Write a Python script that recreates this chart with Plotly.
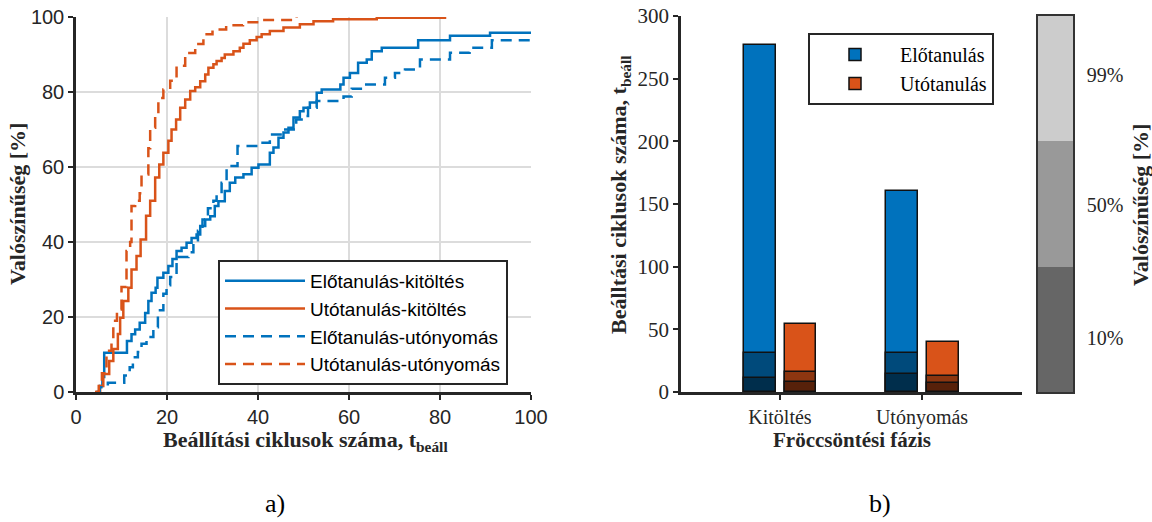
import plotly.graph_objects as go

# ---------------- data: a) empirical CDF curves ----------------
pre_fill_x = [4.5, 5.2, 5.8, 6.2, 11.2, 12.2, 13, 14, 15.2, 15.9, 16.6, 17.5, 17.9, 19.2, 20.3, 21.2,
              22.1, 23.2, 24.3, 25.4, 26.5, 27.3, 28.4, 29.5, 30.5, 31.3, 32.7, 33.8, 35, 36.8, 38.6,
              40.1, 42.6, 43.4, 44.5, 45.6, 46.7, 47.8, 49.2, 50, 51.4, 52.9, 54, 58.1, 58.8, 60.2,
              62, 63.9, 65, 67.2, 75.2, 82.2, 91, 100]
pre_fill_y = [0, 1.6, 4, 10.5, 13.6, 15.4, 16.7, 18.5, 21.1, 24.3, 26.5, 27.8, 30.5, 31.8, 33.6, 35.5,
              37.6, 38.5, 39.8, 41.1, 42, 44.3, 46, 46.9, 49.6, 50.9, 53.6, 55.8, 57.2, 58.1, 59.8,
              60.7, 63.8, 65.2, 67.8, 69.2, 70.5, 73.2, 74.9, 75.8, 77.2, 79.8, 80.7, 82, 83.8, 85.1,
              87.8, 88.7, 90.9, 91.8, 93.8, 95, 95.8, 95.8]

post_fill_x = [4.2, 5.3, 6, 7.3, 8.2, 9.2, 9.7, 10.4, 11.5, 12.2, 13.3, 14.2, 15.4, 16.3, 17.4, 18.3,
               19.2, 20.3, 21, 22, 22.9, 24, 25.1, 26.2, 27.3, 28.4, 29.1, 30.2, 30.9, 32, 32.7,
               34.6, 36, 36.8, 38.2, 39.7, 40.8, 42.6, 45.6, 49.2, 52.2, 56.5, 66.1, 81.1]
post_fill_y = [0, 1.6, 4.8, 8.3, 11.5, 15.5, 19.8, 24.3, 27.8, 32.7, 36.3, 40.7, 47, 51, 57.2, 60.7,
               63.8, 67, 70, 72.7, 75.8, 78, 80.3, 81.3, 82.9, 84.7, 86.5, 87.4, 88.3, 89.1, 90,
               90.9, 91.8, 92.9, 93.8, 94.7, 95.4, 96.3, 97.2, 98.1, 98.9, 99.4, 99.8, 100]

pre_hold_x = [4.5, 5.2, 7, 10.6, 11.8, 12.5, 13.6, 14.4, 15.5, 17, 18, 19.2, 19.9, 20.7, 22.1, 24.7,
              25.8, 26.8, 27.8, 29, 30.2, 30.9, 32, 33.1, 35.5, 41, 42.6, 45.6, 48.4, 50.3, 51, 52.9,
              58.8, 60.6, 63.2, 67.9, 70.1, 72.3, 75.6, 82.2, 86.5, 91.4, 100]
pre_hold_y = [0, 1.3, 2.5, 4.4, 6.6, 9.3, 10.7, 12.9, 14.7, 17.3, 21.8, 26.2, 28.5, 30.7, 36, 37.3,
              40, 43, 46, 49, 51, 52.7, 55.8, 60.3, 65.6, 66.5, 68.7, 70, 72.7, 73.6, 75.8, 77.6,
              78.8, 80.9, 82, 83.8, 85.1, 86, 88.7, 90.5, 91.8, 93.8, 93.8]

post_hold_x = [4.2, 5, 5.7, 6.7, 7.8, 8.2, 9, 10, 11.1, 11.9, 12.2, 13, 14, 14.4, 15.9, 16.3, 17.4,
               18.1, 19.2, 20.7, 22.1, 24, 26.2, 28, 30, 33, 36.7, 40.4, 48.5]
post_hold_y = [0, 2, 5, 11, 14, 19, 22, 28, 37.6, 40, 49.6, 51, 53, 58, 65, 70.5, 73.6,
               78.4, 80.7, 83, 87, 90.4, 92.8, 95.4, 96.7, 97.8, 98.6, 99.2, 100]

curve_names = ["Előtanulás-kitöltés", "Utótanulás-kitöltés",
               "Előtanulás-utónyomás", "Utótanulás-utónyomás"]

# ---------------- data: b) percentile bars ----------------
phases = ["Kitöltés", "Utónyomás"]
pre_p10 = [11, 14]
pre_p50 = [31, 31]
pre_p99 = [277, 160]
post_p10 = [8, 7]
post_p50 = [16, 13]
post_p99 = [54, 40]
series_names = ["Előtanulás", "Utótanulás"]

levels = ["10%", "50%", "99%"]
level_colors = ["#666666", "#999999", "#cccccc"]

# ---------------- styling ----------------
BLUE = "#0072bd"
ORANGE = "#d95319"
BLUE_50, BLUE_10 = "#004a7b", "#002e4c"
ORANGE_50, ORANGE_10 = "#8d3610", "#57210a"
AX = "#262626"
SANS = "Liberation Sans, Arial, sans-serif"
SERIF = "Liberation Serif, Times New Roman, serif"
W, H = 1152, 522

fig = go.Figure()

dash = "11px,7px"
for xs, ys, name, col, dsh in [
    (pre_fill_x, pre_fill_y, curve_names[0], BLUE, "solid"),
    (post_fill_x, post_fill_y, curve_names[1], ORANGE, "solid"),
    (pre_hold_x, pre_hold_y, curve_names[2], BLUE, dash),
    (post_hold_x, post_hold_y, curve_names[3], ORANGE, dash),
]:
    fig.add_trace(go.Scatter(
        x=xs, y=ys, name=name, mode="lines", line_shape="hv",
        line=dict(color=col, width=2.5, dash=dsh),
        xaxis="x", yaxis="y", legend="legend", cliponaxis=True))

BW = 0.225
OFF_PRE, OFF_POST = -0.254, 0.032
bar_line = dict(color="#111111", width=1.5)
# full (99%) bars
fig.add_trace(go.Bar(x=phases, y=pre_p99, name=series_names[0], marker=dict(color=BLUE, line=bar_line),
                     width=BW, offset=OFF_PRE, xaxis="x2", yaxis="y2", legend="legend2"))
fig.add_trace(go.Bar(x=phases, y=post_p99, name=series_names[1], marker=dict(color=ORANGE, line=bar_line),
                     width=BW, offset=OFF_POST, xaxis="x2", yaxis="y2", legend="legend2"))
# 50% and 10% overlays
for vals, col, off in [(pre_p50, BLUE_50, OFF_PRE), (post_p50, ORANGE_50, OFF_POST),
                       (pre_p10, BLUE_10, OFF_PRE), (post_p10, ORANGE_10, OFF_POST)]:
    fig.add_trace(go.Bar(x=phases, y=vals, marker=dict(color=col, line=bar_line),
                         width=BW, offset=off, xaxis="x2", yaxis="y2", showlegend=False))

# probability colour key
fig.add_trace(go.Bar(x=[0, 0, 0], y=[1, 1, 1], base=[0, 1, 2], width=1,
                     marker=dict(color=level_colors, line=dict(width=0)),
                     xaxis="x3", yaxis="y3", showlegend=False, hoverinfo="skip"))

def px_x(p):
    return p / W

def px_y(p):
    return 1 - p / H

fig.update_layout(
    width=W, height=H, margin=dict(l=0, r=0, t=0, b=0),
    paper_bgcolor="white", plot_bgcolor="white",
    barmode="overlay", bargap=0,
    showlegend=True,
    xaxis=dict(domain=[px_x(76), px_x(531)], range=[0, 100], tickvals=[0, 20, 40, 60, 80, 100],
               showgrid=True, gridcolor="#dcdcdc", gridwidth=2, zeroline=False,
               showline=True, linecolor=AX, linewidth=2.5, ticks="outside", ticklen=5,
               tickwidth=2, tickcolor=AX, tickfont=dict(family=SANS, size=20, color=AX),
               anchor="y", automargin=False),
    yaxis=dict(domain=[px_y(392), px_y(17)], range=[0, 100], tickvals=[0, 20, 40, 60, 80, 100],
               showgrid=True, gridcolor="#dcdcdc", gridwidth=2, zeroline=False,
               showline=True, linecolor=AX, linewidth=2.5, ticks="outside", ticklen=5,
               tickwidth=2, tickcolor=AX, tickfont=dict(family=SANS, size=20, color=AX),
               anchor="x", automargin=False),
    xaxis2=dict(domain=[px_x(681), px_x(1022)], type="category", range=[-0.697, 1.704],
                showgrid=False, zeroline=False, showline=True, linecolor=AX, linewidth=2.5,
                ticks="outside", ticklen=5, tickwidth=2, tickcolor=AX,
                tickfont=dict(family=SERIF, size=20, color=AX), anchor="y2", automargin=False),
    yaxis2=dict(domain=[px_y(392), px_y(16)], range=[0, 300], tickvals=[0, 50, 100, 150, 200, 250, 300],
                showgrid=False, zeroline=False, showline=True, linecolor=AX, linewidth=2.5,
                ticks="outside", ticklen=5, tickwidth=2, tickcolor=AX,
                tickfont=dict(family=SERIF, size=21, color=AX), anchor="x2", automargin=False),
    xaxis3=dict(domain=[px_x(1038), px_x(1073)], range=[-0.5, 0.5], showticklabels=False,
                showgrid=False, zeroline=False, showline=True, mirror=True, linecolor="#333333",
                linewidth=1.5, ticks="", anchor="y3", automargin=False),
    yaxis3=dict(domain=[px_y(392), px_y(16)], range=[0, 3], side="right",
                tickvals=[0.43, 1.49, 2.53], ticktext=levels, ticks="",
                showgrid=False, zeroline=False, showline=True, mirror=True, linecolor="#333333",
                linewidth=1.5, ticklabelstandoff=8,
                tickfont=dict(family=SERIF, size=20, color=AX), anchor="x3", automargin=False),
    legend=dict(x=px_x(218), y=px_y(260), xanchor="left", yanchor="top",
                bordercolor=AX, borderwidth=2, bgcolor="white",
                font=dict(family=SANS, size=19, color="#000000"),
                itemwidth=80, traceorder="normal"),
    legend2=dict(x=px_x(808), y=px_y(33), xanchor="left", yanchor="top",
                 bordercolor=AX, borderwidth=2, bgcolor="white",
                 font=dict(family=SERIF, size=20, color="#000000"), itemwidth=80),
)

ann_font = dict(family=SERIF, size=22, color=AX)
annotations = [
    dict(text="<b>Valószínűség [%]</b>", x=px_x(18), y=px_y(204), textangle=-90, size=22),
    dict(text="<b>Beállítási ciklusok száma, t<sub>beáll</sub></b>", x=px_x(305), y=px_y(441), size=22),
    dict(text="<b>Beálltási ciklusok száma, t<sub>beáll</sub></b>", x=px_x(620), y=px_y(195), textangle=-90, size=22),
    dict(text="<b>Fröccsöntési fázis</b>", x=px_x(852), y=px_y(440), size=21),
    dict(text="<b>Valószínűség [%]</b>", x=px_x(1140), y=px_y(205), textangle=-90, size=22),
]
for a in annotations:
    sz = a.pop("size")
    fig.add_annotation(xref="paper", yref="paper", showarrow=False, xanchor="center",
                       yanchor="middle", font=dict(family=SERIF, size=sz, color=AX), **a)
for t, xp in [("a)", 275), ("b)", 880)]:
    fig.add_annotation(text=t, xref="paper", yref="paper", x=px_x(xp), y=px_y(503), showarrow=False,
                       xanchor="center", yanchor="middle", font=dict(family=SERIF, size=26, color="#000000"))

fig.write_html("out.html")
